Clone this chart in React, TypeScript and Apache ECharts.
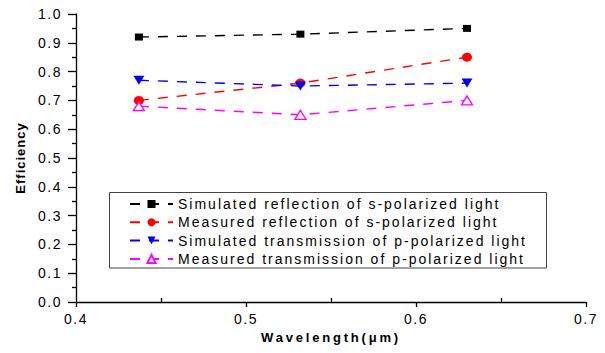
import React, { useEffect, useRef } from "react";
import * as echarts from "echarts";

const wavelengths = [0.437, 0.532, 0.63];
const simReflS = [0.92, 0.93, 0.95];
const measReflS = [0.70, 0.76, 0.85];
const simTransP = [0.77, 0.75, 0.76];
const measTransP = [0.68, 0.65, 0.70];
const seriesNames = [
  "Simulated reflection of s-polarized light",
  "Measured reflection of s-polarized light",
  "Simulated transmission of p-polarized light",
  "Measured transmission of p-polarized light",
];
const xTicks = [0.4, 0.5, 0.6, 0.7];
const yTicks = [0, 0.1, 0.2, 0.3, 0.4, 0.5, 0.6, 0.7, 0.8, 0.9, 1.0];

const FONT = "'Liberation Sans', Arial, sans-serif";

function pair(ys: number[]) {
  return wavelengths.map((x, i) => [x, ys[i]]);
}

export default function App() {
  const ref = useRef<HTMLDivElement>(null);
  useEffect(() => {
    if (!ref.current) return;
    const chart = echarts.init(ref.current, null, { renderer: "svg" });
    const dash = [10, 9];
    const mk = (name: string, data: number[], color: string, extra: any) => ({
      name,
      type: "line",
      data: pair(data),
      color,
      lineStyle: { color, width: 1.4, type: dash },
      ...extra,
    });
    chart.setOption({
      animation: false,
      backgroundColor: "#fff",
      textStyle: { fontFamily: FONT },
      grid: { left: 76, right: 19, top: 14, bottom: 51, outerBoundsMode: "none" },
      xAxis: [
        {
          type: "value",
          min: xTicks[0],
          max: xTicks[xTicks.length - 1],
          interval: 0.1,
          name: "Wavelength(μm)",
          nameLocation: "middle",
          nameGap: 28,
          nameTextStyle: { fontSize: 13, fontWeight: "bold", color: "#000", fontFamily: FONT },
          axisLine: { lineStyle: { color: "#000", width: 1.3 } },
          axisTick: { show: true, length: 5, lineStyle: { color: "#000", width: 1.3 } },
          axisLabel: { color: "#000", fontSize: 14, margin: 10, formatter: (v: number) => v.toFixed(1) },
          splitLine: { show: false },
        },
        {
          type: "value",
          position: "bottom",
          min: xTicks[0],
          max: xTicks[xTicks.length - 1],
          interval: 0.1,
          axisLine: { show: false },
          axisTick: { show: false, inside: true },
          minorTick: { show: true, splitNumber: 2, length: 4, lineStyle: { color: "#000", width: 1.3 } },
          axisLabel: { show: false },
          splitLine: { show: false },
        },
      ],
      yAxis: {
        type: "value",
        min: yTicks[0],
        max: yTicks[yTicks.length - 1],
        interval: 0.1,
        name: "Efficiency",
        nameLocation: "middle",
        nameGap: 49,
        nameTextStyle: { fontSize: 13, fontWeight: "bold", color: "#000", fontFamily: FONT },
        axisLine: { show: true, lineStyle: { color: "#000", width: 1.3 } },
        axisTick: { show: true, length: 8, lineStyle: { color: "#000", width: 1.3 } },
        minorTick: { show: true, splitNumber: 2, length: 4, lineStyle: { color: "#000", width: 1.3 } },
        axisLabel: { color: "#000", fontSize: 14, margin: 14, formatter: (v: number) => v.toFixed(1) },
        splitLine: { show: false },
      },
      legend: {
        orient: "vertical",
        left: 124,
        top: 192,
        itemWidth: 43,
        itemHeight: 10,
        itemGap: 4.3,
        textStyle: { fontSize: 14, color: "#000", fontFamily: FONT, padding: [0, 0, 0, 0] },
        data: seriesNames,
      },
      graphic: [
        {
          type: "rect",
          shape: { x: 109.5, y: 192.5, width: 437, height: 75.5 },
          style: { fill: "none", stroke: "#444", lineWidth: 1 },
          silent: true,
        },
      ],
      series: [
        mk(seriesNames[0], simReflS, "#000000", { symbol: "rect", symbolSize: [8, 7] }),
        mk(seriesNames[1], measReflS, "#ff0000", { symbol: "circle", symbolSize: [10, 9] }),
        mk(seriesNames[2], simTransP, "#0000ff", { symbol: "triangle", symbolRotate: 180, symbolSize: [11, 9] }),
        mk(seriesNames[3], measTransP, "#ff00ff", {
          symbol: "triangle",
          symbolSize: [11, 9],
          itemStyle: { color: "#ffffff", borderColor: "#ff00ff", borderWidth: 1.3 },
        }),
      ],
    });

    const applySpacing = () => {
      const texts = ref.current?.querySelectorAll("text");
      if (!texts) return;
      texts.forEach((t) => {
        const s = t.textContent || "";
        let sp = "1.5px";
        if (seriesNames.includes(s)) sp = "2px";
        else if (s.startsWith("Wavelength")) sp = "2.8px";
        else if (s === "Efficiency") sp = "1px";
        (t as SVGTextElement).style.letterSpacing = sp;
      });
    };
    applySpacing();
    chart.on("finished", applySpacing);
    const id = window.setTimeout(applySpacing, 50);

    return () => {
      window.clearTimeout(id);
      chart.dispose();
    };
  }, []);
  return <div ref={ref} style={{ width: 605, height: 353, position: "absolute", left: 0, top: 0 }} />;
}
